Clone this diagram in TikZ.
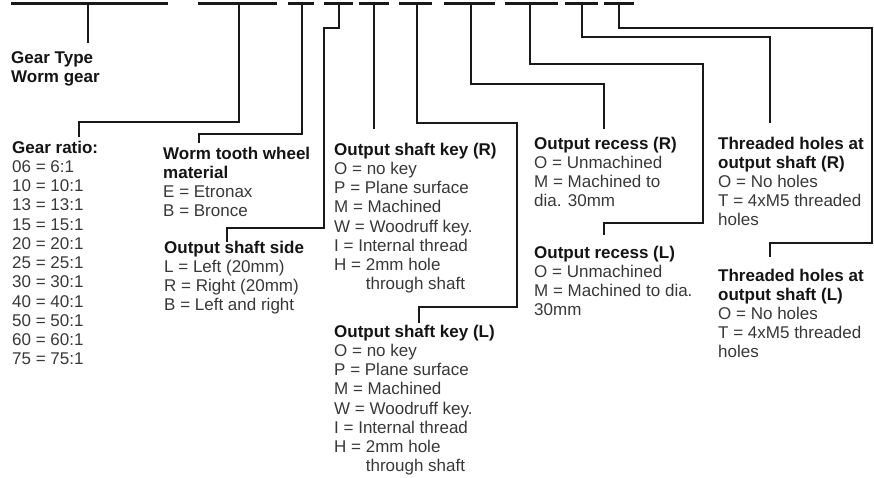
\documentclass[tikz,border=0pt]{standalone}
\usepackage{fontspec}
\setmainfont{Liberation Sans}
\newcommand\hdr[1]{{\color{black!92}\bfseries #1}}
\newcommand\firstln{\rule{0pt}{14pt}}
\begin{document}
\begin{tikzpicture}[x=1pt,y=-1pt,
  ln/.style={line width=2.2pt,draw=black!90},
  txt/.style={font=\fontsize{17}{19.1}\selectfont,align=left,anchor=north west,inner sep=0pt,text=black!78},
  txtl/.style={txt,font=\fontsize{17}{19.25}\selectfont}]
\useasboundingbox (0,0) rectangle (874,477);
% bar end points
\coordinate (b1l) at (11,3.5);  \coordinate (b1r) at (168,3.5);
\coordinate (b2l) at (198,3.5); \coordinate (b2r) at (277,3.5);
\coordinate (b3l) at (288,3.5); \coordinate (b3r) at (314,3.5);
\coordinate (b4l) at (324,3.5); \coordinate (b4r) at (353,3.5);
\coordinate (b5l) at (359,3.5); \coordinate (b5r) at (389,3.5);
\coordinate (b6l) at (399,3.5); \coordinate (b6r) at (432,3.5);
\coordinate (b7l) at (444,3.5); \coordinate (b7r) at (495,3.5);
\coordinate (b8l) at (505,3.5); \coordinate (b8r) at (558,3.5);
\coordinate (b9l) at (565,3.5); \coordinate (b9r) at (598,3.5);
\coordinate (b10l) at (604,3.5); \coordinate (b10r) at (634,3.5);
% stems
\coordinate (s1) at (88,3.5);
\coordinate (s2) at (239,3.5);
\coordinate (s3) at (302,3.5);
\coordinate (s4) at (339,3.5);
\coordinate (s5) at (374,3.5);
\coordinate (s6) at (417,3.5);
\coordinate (s7) at (471,3.5);
\coordinate (s8) at (530,3.5);
\coordinate (s9) at (582,3.5);
\coordinate (s10) at (619,3.5);
% connector ends
\coordinate (e1) at (88,43);
\coordinate (e2) at (79,137);
\coordinate (e3) at (199,143);
\coordinate (e4) at (227,242);
\coordinate (e5) at (374,129);
\coordinate (e6) at (419,323);
\coordinate (e7) at (604,129);
\coordinate (e8) at (604,235);
\coordinate (e9) at (770,123);
\coordinate (e10) at (770,257);
% bars
\foreach \i in {1,...,10} { \draw[ln] (b\i l) -- (b\i r); }
% connectors
\draw[ln] (s1) -- (e1);
\draw[ln] (s2) -- (239,122) -| (e2);
\draw[ln] (s3) -- (302,134) -| (e3);
\draw[ln] (s4) -- (339,28) -| (324,228) -| (e4);
\draw[ln] (s5) -- (e5);
\draw[ln] (s6) -- (417,123) -| (517,307) -| (e6);
\draw[ln] (s7) -- (471,84) -| (e7);
\draw[ln] (s8) -- (530,64) -| (703,223) -| (e8);
\draw[ln] (s9) -- (582,37) -| (e9);
\draw[ln] (s10) -- (619,28) -| (872,243) -| (e10);
% texts
\node[txt] (gt) at (11,49) {\firstln\hdr{Gear Type}\\\hdr{Worm gear}};
\node[txtl] (gr) at (12,139) {\firstln\hdr{Gear ratio:}\\06 = 6:1\\10 = 10:1\\13 = 13:1\\15 = 15:1\\20 = 20:1\\25 = 25:1\\30 = 30:1\\40 = 40:1\\50 = 50:1\\60 = 60:1\\75 = 75:1};
\node[txt] (wt) at (163,145) {\firstln\hdr{Worm tooth wheel}\\\hdr{material}\\E = Etronax\\B = Bronce};
\node[txt] (os) at (164,239) {\firstln\hdr{Output shaft side}\\L = Left (20mm)\\R = Right (20mm)\\B = Left and right};
\node[txtl] (kr) at (334,141) {\firstln\hdr{Output shaft key (R)}\\O = no key\\P = Plane surface\\M = Machined\\W = Woodruff key.\\I = Internal thread\\H = 2mm hole\\\phantom{H = }through shaft};
\node[txtl] (kl) at (334,323) {\firstln\hdr{Output shaft key (L)}\\O = no key\\P = Plane surface\\M = Machined\\W = Woodruff key.\\I = Internal thread\\H = 2mm hole\\\phantom{H = }through shaft};
\node[txt] (rr) at (534,135) {\firstln\hdr{Output recess (R)}\\O = Unmachined\\M = Machined to\\dia. 30mm};
\node[txt] (rl) at (534,244) {\firstln\hdr{Output recess (L)}\\O = Unmachined\\M = Machined to dia.\\30mm};
\node[txt] (tr) at (718,135) {\firstln\hdr{Threaded holes at}\\\hdr{output shaft (R)}\\O = No holes\\T = 4xM5 threaded\\holes};
\node[txt] (tl) at (718,267) {\firstln\hdr{Threaded holes at}\\\hdr{output shaft (L)}\\O = No holes\\T = 4xM5 threaded\\holes};
\end{tikzpicture}
\end{document}
